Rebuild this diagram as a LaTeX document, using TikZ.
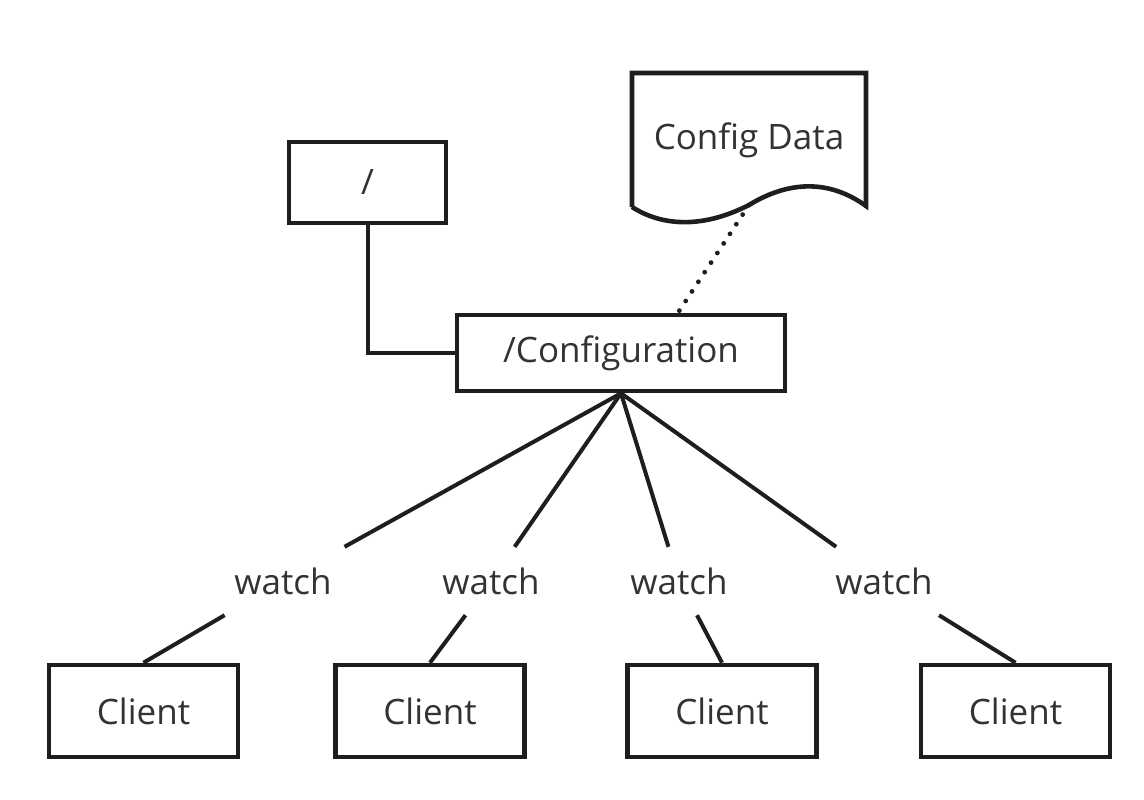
\documentclass[tikz,border=0pt]{standalone}
\usepackage{fontspec}
\setmainfont{Open Sans}
\usepackage{tikz}
\usetikzlibrary{calc}

\definecolor{inkline}{HTML}{1E1E1E}
\definecolor{inktext}{HTML}{333333}

\tikzset{
  znode/.style={draw=inkline,line width=4.6pt,fill=white,text=inktext,
    inner sep=0pt,font=\fontsize{35}{40}\selectfont},
  watchlabel/.style={inner sep=0pt,minimum width=140pt,minimum height=68pt,
    text=inktext,font=\fontsize{35}{40}\selectfont},
  link/.style={draw=inkline,line width=4pt},
}

\begin{document}
\begin{tikzpicture}[x=1pt,y=-1pt]
        \useasboundingbox (0,0) rectangle (1144,800);
        % znodes
        \node[znode,minimum width=157pt,minimum height=81pt] (root) at (367.5,182.5) {/};
        \node[znode,minimum width=328pt,minimum height=76pt] (conf) at (621,353) {/Configuration};
        \node[znode,minimum width=189pt,minimum height=92pt] (c1) at (143.5,711) {Client};
        \node[znode,minimum width=189pt,minimum height=92pt] (c2) at (430,711) {Client};
        \node[znode,minimum width=189pt,minimum height=92pt] (c3) at (722,711) {Client};
        \node[znode,minimum width=189pt,minimum height=92pt] (c4) at (1015.5,711) {Client};
        % data attached to the znode
        \draw[draw=inkline,line width=4.6pt,line join=miter] (632,207) -- (632,73) -- (866,73) -- (866,206)
          .. controls (830,180) and (790,180) .. (749,205)
          .. controls (700,230) and (660,225) .. (632,207);
        \coordinate (wave) at (749,205);
        \node[text=inktext,font=\fontsize{35}{40}\selectfont] (data) at (749,140) {Config Data};
        \draw[draw=inkline,line width=4.8pt,line cap=round,dash pattern=on 0pt off 11.5pt]
          (wave) -- ($(conf.north)+(57,0)$);
        % tree link
        \draw[link] (root.south) |- (conf.west);
        % watches
        \node[watchlabel] (w1) at (283,581) {watch};
        \node[watchlabel] (w2) at (491,581) {watch};
        \node[watchlabel] (w3) at (679,581) {watch};
        \node[watchlabel] (w4) at (884,581) {watch};
        \draw[link] (conf.south) -- (w1);
        \draw[link] (conf.south) -- (w2);
        \draw[link] (conf.south) -- (w3);
        \draw[link] (conf.south) -- (w4);
        \draw[link] (w1) -- (c1.north);
        \draw[link] (w2) -- (c2.north);
        \draw[link] (w3) -- (c3.north);
        \draw[link] (w4) -- (c4.north);
      \end{tikzpicture}
\end{document}
